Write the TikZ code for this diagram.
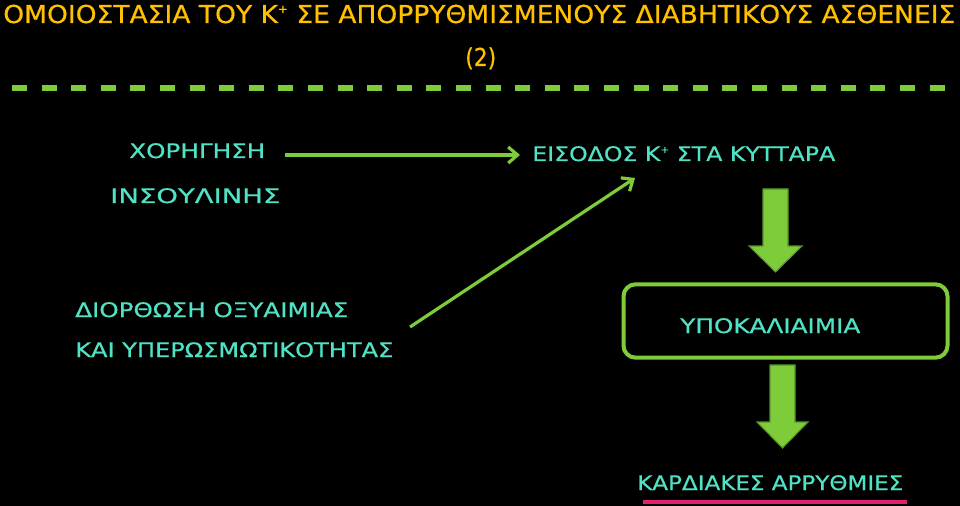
\documentclass[tikz,border=0pt]{standalone}
\usepackage{fontspec}
\setmainfont{DejaVu Sans}[FakeBold=0.6]
\usetikzlibrary{arrows.meta}
\definecolor{titleor}{RGB}{255,192,0}
\definecolor{lgreen}{RGB}{126,204,58}
\definecolor{dgreen}{RGB}{86,150,40}
\definecolor{aqua}{RGB}{80,226,196}
\definecolor{magent}{RGB}{226,32,112}
\newlength\pxu
\setlength\pxu{0.75pt}
\newcommand{\fitw}[2]{\resizebox{#1\pxu}{\height}{#2}}
\newcommand{\kplus}{Κ\raisebox{0.75ex}{\scalebox{0.45}{+}}}
\tikzset{
  ttl/.style={text=titleor, font=\fontsize{18.5}{22}\selectfont, inner sep=0pt},
  lbl/.style={text=aqua, font=\fontsize{15}{18}\selectfont, inner sep=0pt},
  conn/.style={draw=lgreen, line width=2.4pt, -{Straight Barb[length=7pt,width=12pt,line width=2.4pt]}},
  blockarrow/.style={fill=lgreen, draw=dgreen, line width=0.8pt, line join=miter},
}
\begin{document}
\begin{tikzpicture}[x=0.75pt,y=-0.75pt]
\fill[black] (0,0) rectangle (960,506);
\useasboundingbox (0,0) rectangle (960,506);
% title
\node[ttl, anchor=base west] (title) at (3,23) {\fitw{952}{ΟΜΟΙΟΣΤΑΣΙΑ ΤΟΥ \kplus\ ΣΕ ΑΠΟΡΡΥΘΜΙΣΜΕΝΟΥΣ ΔΙΑΒΗΤΙΚΟΥΣ ΑΣΘΕΝΕΙΣ}};
\node[ttl, anchor=base west] (num) at (465,66) {\fitw{31}{(2)}};
\coordinate (dl) at (12,88);
\coordinate (dr) at (948,88);
\draw[lgreen, line width=4pt, dash pattern=on 11.25pt off 10.95pt] (dl) -- (dr);
% texts
\node[lbl, anchor=base west] (xor) at (129,158) {\fitw{136}{ΧΟΡΗΓΗΣΗ}};
\node[lbl, anchor=base west] (ins) at (110,203) {\fitw{170}{ΙΝΣΟΥΛΙΝΗΣ}};
\node[lbl, anchor=base west] (eis) at (532,161) {\fitw{303}{ΕΙΣΟΔΟΣ \kplus\ ΣΤΑ ΚΥΤΤΑΡΑ}};
\node[lbl, anchor=base west] (dio) at (75,317) {\fitw{273}{ΔΙΟΡΘΩΣΗ ΟΞΥΑΙΜΙΑΣ}};
\node[lbl, anchor=base west] (kai) at (75,357) {\fitw{318}{ΚΑΙ ΥΠΕΡΩΣΜΩΤΙΚΟΤΗΤΑΣ}};
% connectors
\coordinate (a1s) at (285,155);
\coordinate (a1e) at (520,155);
\draw[conn] (a1s) -- (a1e);
\coordinate (a2s) at (410,327);
\coordinate (a2e) at (635,178);
\draw[conn] (a2s) -- (a2e);
% box
\node[draw=lgreen, line width=3pt, rounded corners=9pt, minimum width=243pt, minimum height=55pt, inner sep=0pt] (box) at (785.5,321) {};
\node[lbl, anchor=base west] (hypo) at (680,333) {\fitw{180}{ΥΠΟΚΑΛΙΑΙΜΙΑ}};
% block arrows
\draw[blockarrow] (763,189) -- (788,189) -- (788,246) -- (802,246) -- (775.5,272) -- (749,246) -- (763,246) -- cycle;
\draw[blockarrow] (770,365) -- (795,365) -- (795,422) -- (808,422) -- (782.5,448) -- (757,422) -- (770,422) -- cycle;
% bottom
\node[lbl, anchor=base west] (kard) at (637,490) {\fitw{266}{ΚΑΡΔΙΑΚΕΣ ΑΡΡΥΘΜΙΕΣ}};
\coordinate (ul) at (643,502);
\coordinate (ur) at (907,502);
\draw[magent, line width=3pt] (ul) -- (ur);
\end{tikzpicture}
\end{document}
